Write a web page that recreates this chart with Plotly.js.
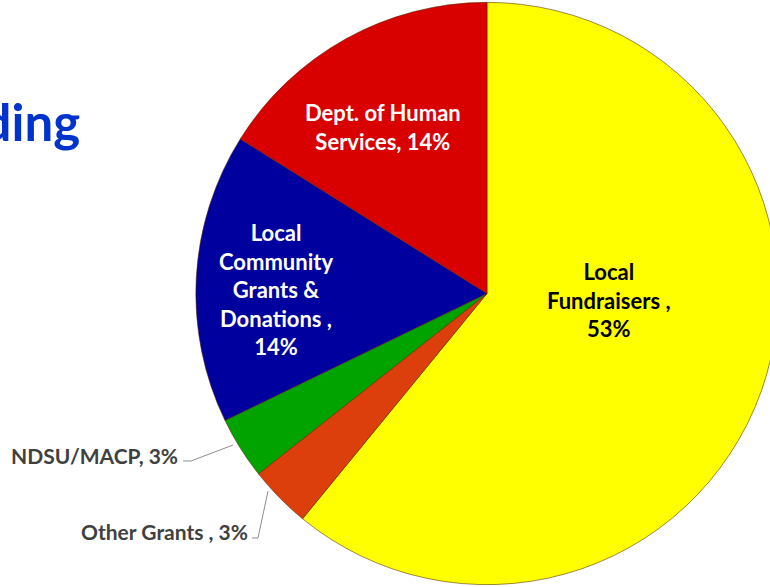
<!DOCTYPE html>
<html>
<head>
<meta charset="utf-8">
<script src="https://cdn.plot.ly/plotly-3.0.1.min.js"></script>
<style>
html,body{margin:0;padding:0;overflow:hidden;background:#fff;width:770px;height:587px;}
#chart{position:absolute;left:0;top:0;width:974px;height:587px;}
</style>
</head>
<body>
<div id="chart"></div>
<script>
// Data (clockwise from 12 o'clock)
const labels = ["Local Fundraisers", "Other Grants", "NDSU/MACP", "Local Community Grants & Donations", "Dept. of Human Services"];
const values = [53, 3, 3, 14, 14];
const colors = ["#FFFF00", "#DD3F0C", "#00A300", "#00009E", "#D90000"];
const displayText = [
  "Local<br>Fundraisers ,<br>53%",
  "Other Grants , 3%",
  "NDSU/MACP, 3%",
  "Local<br>Community<br>Grants &<br>Donations ,<br>14%",
  "Dept. of Human<br>Services, 14%"
];
const titleText = "Funding";

const W = 974, H = 587;
const px = x => x / W;
const py = y => 1 - y / H;
const FONT = "Lato, 'Open Sans', sans-serif";

const trace = {
  type: "pie",
  labels: labels,
  values: values,
  sort: false,
  direction: "clockwise",
  rotation: 0,
  textinfo: "none",
  hoverinfo: "label+value",
  marker: {colors: colors, line: {color: "rgba(80,40,0,0.55)", width: 1}},
  domain: {x: [0, 1], y: [0.004, 0.996]},
  showlegend: false
};

const annPos = [
  {x: 609, y: 300, color: "#000000", xanchor: "center", size: 22},
  {x: 250, y: 531, color: "#404040", xanchor: "right", size: 21},
  {x: 180, y: 455, color: "#404040", xanchor: "right", size: 21},
  {x: 276, y: 290, color: "#FFFFFF", xanchor: "center", size: 22},
  {x: 383, y: 127, color: "#FFFFFF", xanchor: "center", size: 22}
];

const annotations = displayText.map((t, i) => ({
  xref: "paper", yref: "paper",
  x: px(annPos[i].x), y: py(annPos[i].y),
  xanchor: annPos[i].xanchor, yanchor: "middle",
  text: "<b>" + t + "</b>",
  showarrow: false,
  align: "center",
  font: {family: FONT, size: annPos[i].size, color: annPos[i].color}
}));

annotations.push({
  xref: "paper", yref: "paper",
  x: px(82), y: py(121),
  xanchor: "right", yanchor: "middle",
  text: "<b>" + titleText + "</b>",
  showarrow: false,
  font: {family: FONT, size: 51, color: "#0033CC"}
});

const shapes = [
  {type: "path", xref: "paper", yref: "paper",
   path: `M ${px(183)} ${py(461)} L ${px(191)} ${py(461)} L ${px(233)} ${py(445)}`,
   line: {color: "#8c8c8c", width: 1}},
  {type: "path", xref: "paper", yref: "paper",
   path: `M ${px(252)} ${py(538)} L ${px(258)} ${py(538)} L ${px(268)} ${py(491)}`,
   line: {color: "#8c8c8c", width: 1}}
];

const layout = {
  width: W, height: H,
  margin: {l: 0, r: 0, t: 0, b: 0},
  paper_bgcolor: "#ffffff",
  plot_bgcolor: "#ffffff",
  annotations: annotations,
  shapes: shapes,
  showlegend: false
};

Plotly.newPlot("chart", [trace], layout, {displayModeBar: false, staticPlot: true});
</script>
</body>
</html>
